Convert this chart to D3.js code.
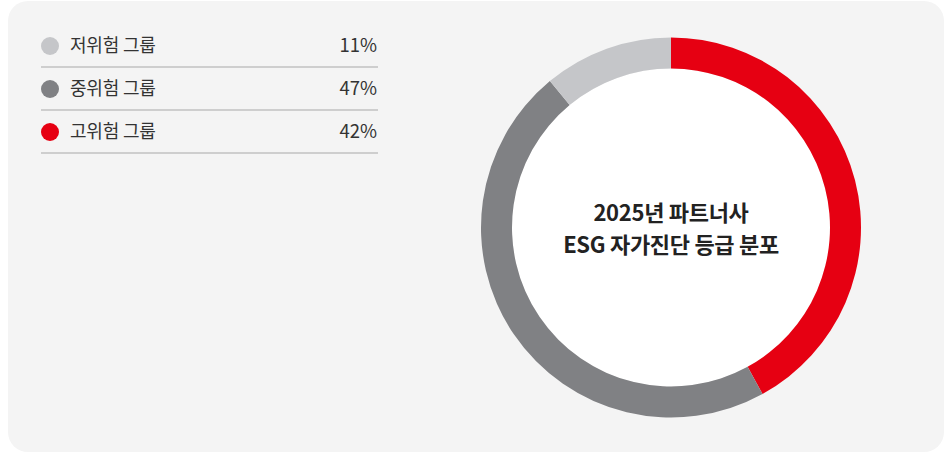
<!DOCTYPE html>
<html>
<head>
<meta charset="utf-8">
<script src="https://cdn.jsdelivr.net/npm/d3@7/dist/d3.min.js"></script>
<style>
  html, body { margin: 0; padding: 0; background: #ffffff; }
  svg { display: block; font-family: "Noto Sans CJK KR", "Noto Sans", sans-serif; }
</style>
</head>
<body>
<svg id="chart" width="945" height="453"></svg>
<script>
// Risk groups and their share of partners (%)
const groups = ["저위험 그룹", "중위험 그룹", "고위험 그룹"];
const shares = [11, 47, 42];
const colors = ["#c5c6c9", "#808184", "#e60012"];
// Ring drawing order, clockwise from 12 o'clock
const ringOrder = ["고위험 그룹", "중위험 그룹", "저위험 그룹"];
const titleLines = ["2025년 파트너사", "ESG 자가진단 등급 분포"];

const svg = d3.select("#chart");
const W = 945, H = 453;

// Panel background
svg.append("rect")
  .attr("x", 8).attr("y", 1)
  .attr("width", W - 9).attr("height", H - 2)
  .attr("rx", 20).attr("ry", 20)
  .attr("fill", "#f4f4f4");

const color = d3.scaleOrdinal().domain(groups).range(colors);
const rows = groups.map((g, i) => ({ group: g, value: shares[i] }));

// Legend
const rowY = d3.scalePoint().domain(groups).range([46, 132]);
const legend = svg.append("g");
const item = legend.selectAll("g").data(rows).join("g")
  .attr("transform", d => `translate(0,${rowY(d.group)})`);
item.append("circle")
  .attr("cx", 50).attr("cy", 0).attr("r", 9)
  .attr("fill", d => color(d.group));
item.append("text")
  .attr("x", 70).attr("y", 0).attr("dy", "0.35em")
  .attr("font-size", 18).attr("fill", "#333")
  .attr("letter-spacing", "-0.2px")
  .text(d => d.group);
item.append("text")
  .attr("x", 377).attr("y", 0).attr("dy", "0.35em")
  .attr("text-anchor", "end")
  .attr("font-size", 18.5).attr("fill", "#333")
  .text(d => d.value + "%");
item.append("line")
  .attr("x1", 41).attr("x2", 378)
  .attr("y1", 21).attr("y2", 21)
  .attr("stroke", "#a8a8a8").attr("stroke-width", 1);

// Donut
const cx = 671, cy = 227.5, rOuter = 190, rInner = 159;
const ringData = ringOrder.map(g => rows.find(r => r.group === g));
const pie = d3.pie().sort(null).value(d => d.value);
const arc = d3.arc().innerRadius(rInner).outerRadius(rOuter);
const donut = svg.append("g").attr("transform", `translate(${cx},${cy})`);
donut.append("circle").attr("r", rInner).attr("fill", "#ffffff");
donut.selectAll("path").data(pie(ringData)).join("path")
  .attr("d", arc)
  .attr("fill", d => color(d.data.group));

// Centre title
donut.selectAll("text.title").data(titleLines).join("text")
  .attr("class", "title")
  .attr("x", 0)
  .attr("y", (d, i) => -14.5 + i * 32)
  .attr("dy", "0.35em")
  .attr("text-anchor", "middle")
  .attr("font-size", 22).attr("font-weight", 700)
  .attr("letter-spacing", "-0.3px")
  .attr("fill", "#222")
  .text(d => d);
</script>
</body>
</html>
